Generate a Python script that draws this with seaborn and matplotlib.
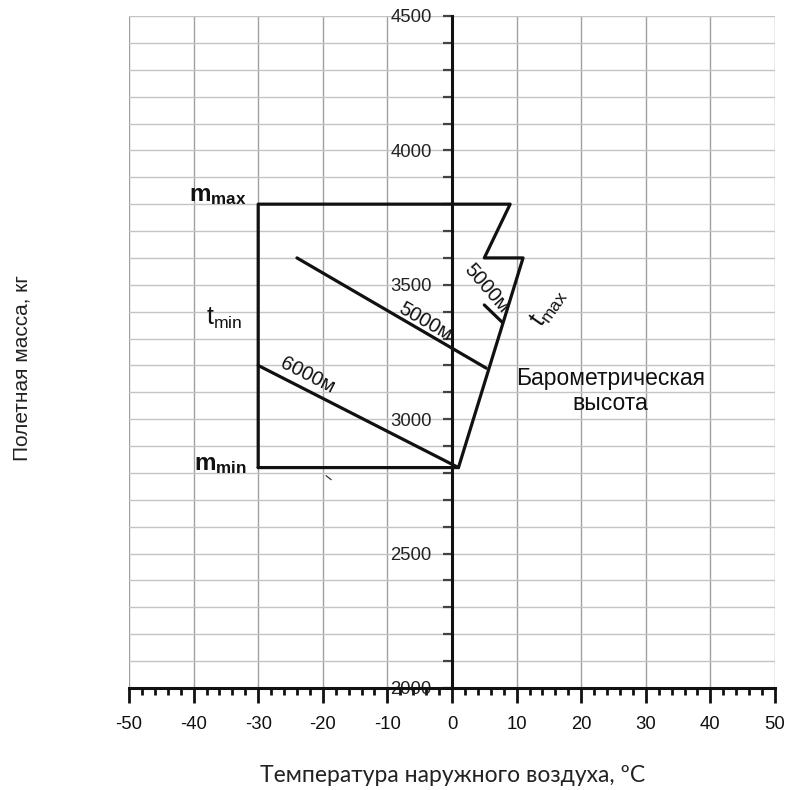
import numpy as np
import pandas as pd
import seaborn as sns
import matplotlib
matplotlib.use("Agg")
import matplotlib.pyplot as plt
from matplotlib.ticker import MultipleLocator

sns.set_theme(style="white")
plt.rcParams['font.family'] = ['Liberation Sans', 'DejaVu Sans']
plt.rcParams['mathtext.fontset'] = 'custom'
plt.rcParams['mathtext.rm'] = 'Liberation Sans'
plt.rcParams['mathtext.bf'] = 'Liberation Sans:bold'
plt.rcParams['mathtext.it'] = 'Liberation Sans:italic'

# ---- data ----
env_t = [-30, -30, 9, 5, 11, 1, -30]
env_m = [2820, 3800, 3800, 3600, 3600, 2820, 2820]
alt5000_t = [-24, 5.3]
alt5000_m = [3600, 3190]
alt6000_t = [-30, 1]
alt6000_m = [3200, 2820]
tmax5000_t = [5, 7.8]
tmax5000_m = [3425, 3360]
mark_t = [-19.5, -18.7]
mark_m = [2790, 2775]

x_ticks = list(range(-50, 51, 10))
y_ticks = list(range(2000, 4501, 500))
x_labels = [str(v) for v in x_ticks]
y_labels = [str(v) for v in y_ticks]

fig = plt.figure(figsize=(7.88, 7.90), dpi=100)
ax = fig.add_axes([129/788, 102/790, 646/788, 672/790])

line_kw = dict(color='#111111', linewidth=2.3, sort=False, estimator=None, ax=ax)
sns.lineplot(x=env_t, y=env_m, **line_kw)
sns.lineplot(x=alt5000_t, y=alt5000_m, **line_kw)
sns.lineplot(x=alt6000_t, y=alt6000_m, **line_kw)
sns.lineplot(x=tmax5000_t, y=tmax5000_m, **line_kw)
sns.lineplot(x=mark_t, y=mark_m, color='#333333', linewidth=0.9, sort=False, estimator=None, ax=ax)

ax.set_xlim(-50, 50)
ax.set_ylim(2000, 4500)

# grid
ax.set_xticks(x_ticks)
ax.set_xticklabels(x_labels)
ax.xaxis.set_minor_locator(MultipleLocator(2))
ax.set_yticks(y_ticks)
ax.set_yticklabels(y_labels)
ax.yaxis.set_minor_locator(MultipleLocator(100))
ax.xaxis.grid(True, which='major', color='#a0a0a0', linewidth=1.0)
ax.yaxis.grid(True, which='both', color='#c4c4c4', linewidth=1.0)
ax.set_axisbelow(True)

# spines
for s in ['top', 'right']:
    ax.spines[s].set_visible(False)
ax.spines['left'].set_position(('data', 0))
ax.spines['left'].set_linewidth(2.2)
ax.spines['left'].set_color('#111111')
ax.spines['bottom'].set_linewidth(2.2)
ax.spines['bottom'].set_color('#111111')
ax.spines['left'].set_zorder(3)
ax.spines['bottom'].set_zorder(3)

ax.tick_params(axis='x', which='major', direction='out', length=10.5, width=2.0,
               color='#111111', pad=10, labelsize=13.3, labelcolor='#111111', bottom=True)
ax.tick_params(axis='x', which='minor', direction='out', length=5, width=2.0,
               color='#111111', bottom=True)
ax.tick_params(axis='y', which='both', direction='out', length=6.5, width=1.6,
               color='#444444', left=True)
ax.tick_params(axis='y', which='major', pad=8, labelsize=13.3, labelcolor='#222222')

ax.set_xlabel('')
ax.set_ylabel('')

# annotations
ax.text(-36.2, 3832, r'$\mathbf{m_{max}}$', fontsize=17.5, ha='center', va='center', color='#111111')
ax.text(-35.3, 3376, r'$\mathrm{t_{min}}$', fontsize=18, ha='center', va='center', color='#111111')
ax.text(-35.8, 2828, r'$\mathbf{m_{min}}$', fontsize=17.5, ha='center', va='center', color='#111111')
ax.text(-4.2, 3362, '5000м', fontsize=14.5, rotation=-30, rotation_mode='anchor',
        ha='center', va='center', color='#111111')
ax.text(-22.3, 3164, '6000м', fontsize=14.5, rotation=-27, rotation_mode='anchor',
        ha='center', va='center', color='#111111')
ax.text(5.3, 3488, '5000м', fontsize=14.5, rotation=-49, rotation_mode='anchor',
        ha='center', va='center', color='#111111')
ax.text(14.9, 3414, r'$\mathrm{t_{max}}$', fontsize=18, rotation=55, rotation_mode='anchor',
        ha='center', va='center', color='#111111')
ax.text(24.5, 3105, 'Барометрическая\nвысота', fontsize=16.5, ha='center', va='center',
        linespacing=1.15, color='#111111')

fig.text(22/788, 1 - 368/790, 'Полетная масса, кг', rotation=90, ha='center', va='center',
         fontsize=15, color='#222222')
fig.text(453/788, 1 - 775/790, 'Температура наружного воздуха, ºС', ha='center', va='center',
         fontsize=16.5, color='#222222', family=['Lato', 'DejaVu Sans'])

fig.savefig('out.png', dpi=100)
